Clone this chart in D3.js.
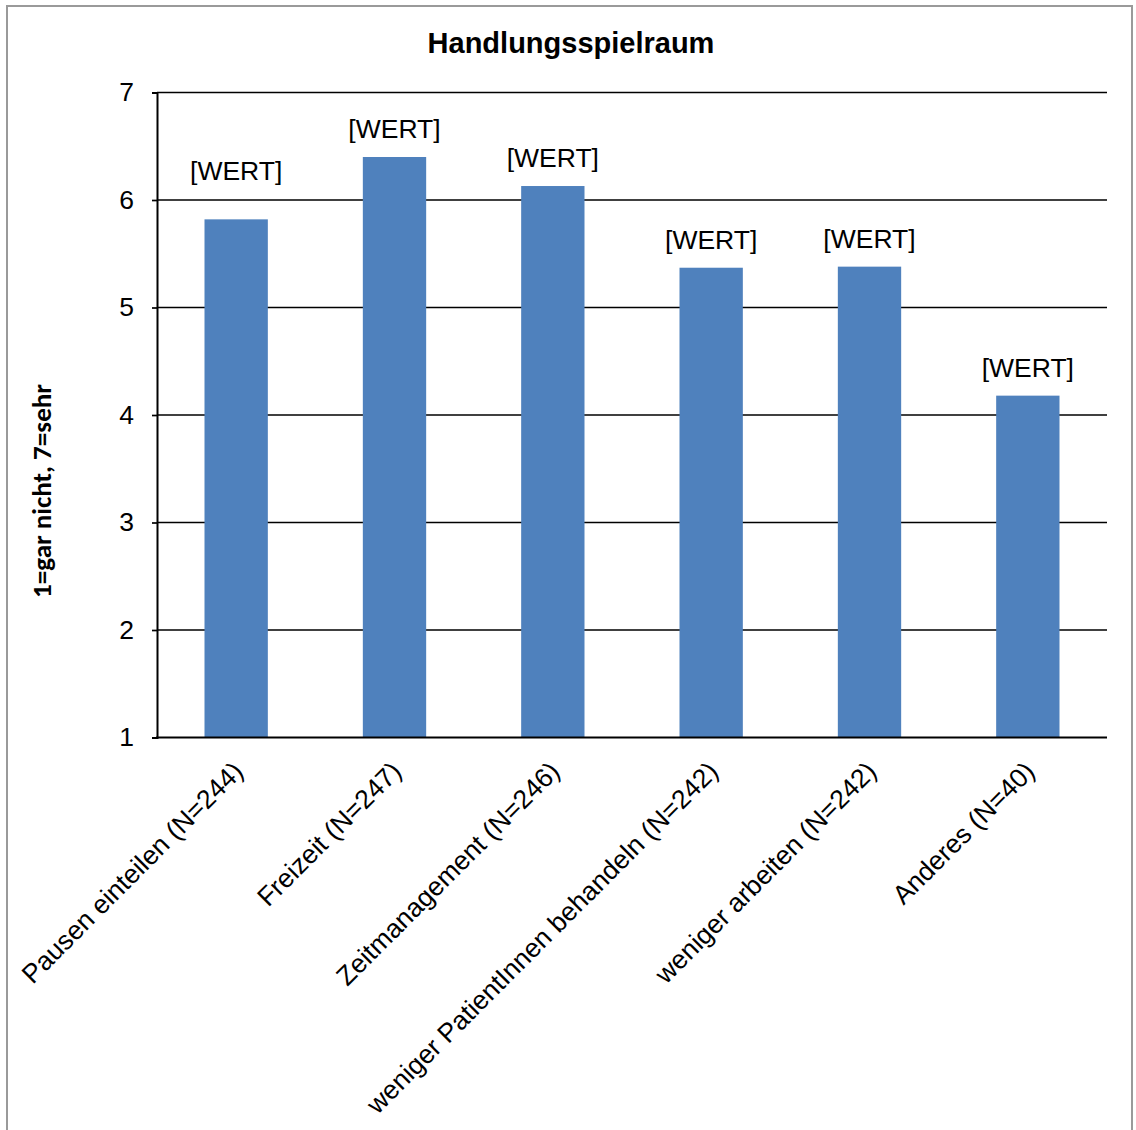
<!DOCTYPE html>
<html>
<head>
<meta charset="utf-8">
<script src="https://cdn.jsdelivr.net/npm/d3@7"></script>
<style>
  html, body { margin: 0; padding: 0; background: #fff; }
  svg { display: block; }
</style>
</head>
<body>
<svg id="chart" width="1136" height="1130"></svg>
<script>
// Data
const categories = [
  "Pausen einteilen (N=244)",
  "Freizeit (N=247)",
  "Zeitmanagement (N=246)",
  "weniger PatientInnen behandeln (N=242)",
  "weniger arbeiten (N=242)",
  "Anderes (N=40)"
];
const values = [5.82, 6.40, 6.13, 5.37, 5.38, 4.18];
const valueLabels = ["[WERT]", "[WERT]", "[WERT]", "[WERT]", "[WERT]", "[WERT]"];
const yTicks = [1, 2, 3, 4, 5, 6, 7];
const chartTitle = "Handlungsspielraum";
const yTitle = "1=gar nicht, 7=sehr";

const svg = d3.select("#chart");
const W = 1136, H = 1130;
const margin = { top: 92.5, right: 29, bottom: 392.5, left: 157 };
const plotW = W - margin.left - margin.right;
const plotH = H - margin.top - margin.bottom;

// outer chart frame
svg.append("rect")
  .attr("x", 7).attr("y", 6)
  .attr("width", 1125).attr("height", 1140)
  .attr("fill", "#fff")
  .attr("stroke", "#9a9a9a").attr("stroke-width", 2);

const g = svg.append("g").attr("transform", `translate(${margin.left},${margin.top})`);

const x = d3.scaleBand().domain(categories).range([0, plotW]).paddingInner(0.6).paddingOuter(0.3);
const y = d3.scaleLinear().domain([1, 7]).range([plotH, 0]);

const font = "'Liberation Sans', Arial, Helvetica, sans-serif";
const textSize = 26.5;

// horizontal gridlines
g.append("g").selectAll("line").data(yTicks.filter(t => t > 1)).join("line")
  .attr("x1", 0).attr("x2", plotW)
  .attr("y1", d => y(d)).attr("y2", d => y(d))
  .attr("stroke", "#000").attr("stroke-width", 1.7);

// bars
g.append("g").selectAll("rect").data(values).join("rect")
  .attr("x", (d, i) => x(categories[i]))
  .attr("width", x.bandwidth())
  .attr("y", d => y(d))
  .attr("height", d => y(1) - y(d))
  .attr("fill", "#4f81bd");

// y axis
const yAxis = g.append("g")
  .call(d3.axisLeft(y).tickValues(yTicks).tickFormat(d3.format("d")).tickSize(5).tickPadding(18));
yAxis.select(".domain").attr("stroke", "#000").attr("stroke-width", 2);
yAxis.selectAll(".tick line").attr("stroke", "#000").attr("stroke-width", 1.7);
yAxis.selectAll(".tick text")
  .attr("font-family", font).attr("font-size", textSize).attr("fill", "#000");

// x axis baseline
g.append("line")
  .attr("x1", -1).attr("x2", plotW)
  .attr("y1", plotH).attr("y2", plotH)
  .attr("stroke", "#000").attr("stroke-width", 2.2);

// rotated category labels
g.append("g").selectAll("text").data(categories).join("text")
  .attr("transform", d => `translate(${x(d) + x.bandwidth() / 2 - 5},${plotH + 22}) rotate(-45)`)
  .attr("text-anchor", "end")
  .attr("dy", "0.72em")
  .attr("font-family", font).attr("font-size", textSize).attr("fill", "#000")
  .text(d => d);

// value labels above bars; lifted clear of a gridline they would cross
g.append("g").selectAll("text").data(values).join("text")
  .attr("x", (d, i) => x(categories[i]) + x.bandwidth() / 2)
  .attr("y", d => {
    let base = y(d) - 19;
    const top = base - textSize * 0.75, bottom = base + textSize * 0.2;
    yTicks.forEach(t => {
      const gy = y(t);
      if (gy > top && gy < bottom) base = gy - 20;
    });
    return base;
  })
  .attr("text-anchor", "middle")
  .attr("font-family", font).attr("font-size", textSize).attr("fill", "#000")
  .text((d, i) => valueLabels[i]);

// chart title
svg.append("text")
  .attr("x", 571).attr("y", 53)
  .attr("text-anchor", "middle")
  .attr("font-family", font).attr("font-weight", "bold").attr("font-size", 29)
  .attr("fill", "#000")
  .text(chartTitle);

// y axis title, sized to span its slot
const yt = svg.append("text")
  .attr("transform", "translate(51,491) rotate(-90)")
  .attr("text-anchor", "middle")
  .attr("font-family", "Carlito, Lato, 'Open Sans', sans-serif")
  .attr("font-weight", "bold").attr("font-size", 22)
  .attr("fill", "#000")
  .text(yTitle);
const len = yt.node().getComputedTextLength();
yt.attr("font-size", 22 * 214 / len);
</script>
</body>
</html>
